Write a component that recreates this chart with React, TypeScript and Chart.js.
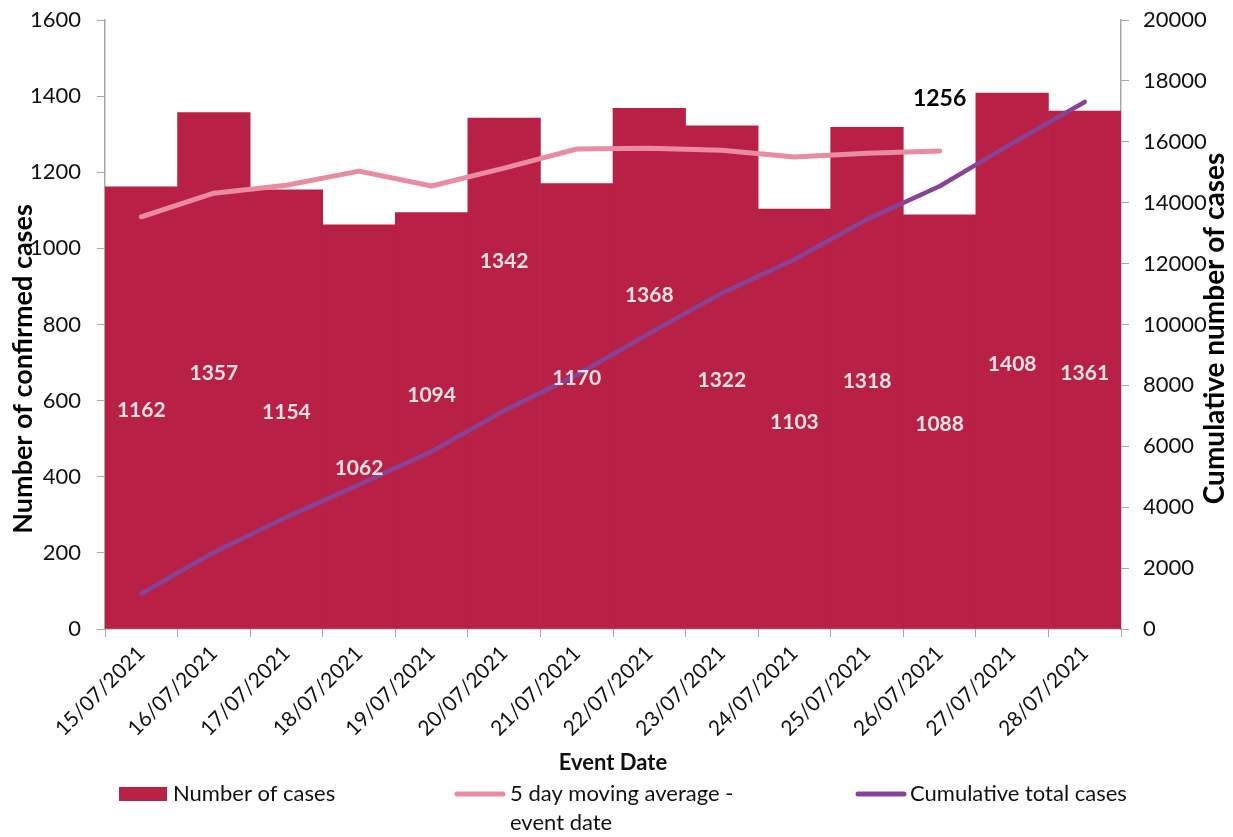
import React, { useEffect, useRef } from "react";
import { Chart, registerables } from "chart.js";

Chart.register(...registerables);

const categories = [
  "15/07/2021", "16/07/2021", "17/07/2021", "18/07/2021", "19/07/2021", "20/07/2021", "21/07/2021",
  "22/07/2021", "23/07/2021", "24/07/2021", "25/07/2021", "26/07/2021", "27/07/2021", "28/07/2021",
];
const dailyCases = [1162, 1357, 1154, 1062, 1094, 1342, 1170, 1368, 1322, 1103, 1318, 1088, 1408, 1361];
const movingAverage: (number | null)[] = [1083, 1145, 1166, 1203, 1164, 1211, 1261, 1263, 1258, 1240, 1250, 1256, null, null];
const cumulativeTotal = [1162, 2519, 3673, 4735, 5829, 7171, 8341, 9709, 11031, 12134, 13452, 14540, 15948, 17309];
const legendLabels = ["Number of cases", ["5 day moving average -", "event date"], "Cumulative total cases"];
const leftTitle = "Number of confirmed cases";
const rightTitle = "Cumulative number of cases";
const xTitle = "Event Date";
// vertical pixel shifts of the bar labels that were moved off-centre in the original
const labelShift = [0, 0, 0, 39, -28, -115, -31, -76, 0, 0, 0, 0, 0, 0];

const FONT = "Lato, 'Open Sans', sans-serif";
const BAR_COLOR = "#B92046";
const MA_COLOR = "#EA8CA0";
const CUM_COLOR = "#874397";

const barLabelPlugin = {
  id: "barLabels",
  afterDatasetsDraw(chart: any) {
    const ctx = chart.ctx;
    ctx.save();
    const barMeta = chart.getDatasetMeta(0);
    ctx.font = `bold 21px ${FONT}`;
    ctx.fillStyle = "#E6E2E3";
    ctx.textAlign = "center";
    ctx.textBaseline = "middle";
    barMeta.data.forEach((el: any, i: number) => {
      const v = chart.data.datasets[0].data[i];
      ctx.fillText(String(v), el.x, (el.y + el.base) / 2 + 3 + (labelShift[i] || 0));
    });
    const maMeta = chart.getDatasetMeta(1);
    const maData = chart.data.datasets[1].data;
    let last = -1;
    maData.forEach((v: any, i: number) => { if (v != null) last = i; });
    if (last >= 0) {
      const p = maMeta.data[last];
      ctx.font = `bold 23px ${FONT}`;
      ctx.fillStyle = "#000";
      ctx.fillText(String(maData[last]), p.x, p.y - 52);
    }
    ctx.restore();
  },
};

const legendPlugin = {
  id: "customLegend",
  afterDraw(chart: any) {
    const ctx = chart.ctx;
    ctx.save();
    const ca = chart.chartArea;
    ctx.font = `bold 28px ${FONT}`;
    ctx.fillStyle = "#000";
    ctx.textAlign = "center";
    ctx.textBaseline = "middle";
    ctx.translate(1215, (ca.top + ca.bottom) / 2 + 4);
    ctx.rotate(-Math.PI / 2);
    ctx.fillText(rightTitle, 0, 0);
    ctx.setTransform(1, 0, 0, 1, 0, 0);

    ctx.font = `bold 27px ${FONT}`;
    ctx.translate(23, 369);
    ctx.rotate(-Math.PI / 2);
    ctx.fillText(leftTitle, 0, 0);
    ctx.setTransform(1, 0, 0, 1, 0, 0);

    ctx.font = `22px ${FONT}`;
    ctx.textBaseline = "middle";
    ctx.textAlign = "left";
    const y = 794;
    ctx.fillStyle = BAR_COLOR;
    ctx.fillRect(119, 787, 48, 14);
    ctx.fillStyle = "#111";
    ctx.fillText(legendLabels[0] as string, 173, y);
    ctx.lineCap = "round";
    ctx.lineWidth = 5;
    ctx.strokeStyle = MA_COLOR;
    ctx.beginPath();
    ctx.moveTo(457, y);
    ctx.lineTo(503, y);
    ctx.stroke();
    const ma = legendLabels[1] as string[];
    ctx.fillText(ma[0], 510, y);
    ctx.fillText(ma[1], 510, y + 29);
    ctx.strokeStyle = CUM_COLOR;
    ctx.beginPath();
    ctx.moveTo(858, y);
    ctx.lineTo(904, y);
    ctx.stroke();
    ctx.fillText(legendLabels[2] as string, 910, y);
    ctx.restore();
  },
};

export default function App() {
  const ref = useRef<HTMLCanvasElement | null>(null);
  useEffect(() => {
    if (!ref.current) return;
    const chart = new Chart(ref.current, {
      type: "bar",
      data: {
        labels: categories,
        datasets: [
          {
            type: "bar",
            label: "Number of cases",
            data: dailyCases,
            backgroundColor: BAR_COLOR,
            borderWidth: 0,
            categoryPercentage: 1,
            barPercentage: 1,
            yAxisID: "y",
            order: 3,
          },
          {
            type: "line",
            label: "5 day moving average - event date",
            data: movingAverage,
            borderColor: MA_COLOR,
            borderWidth: 5,
            pointRadius: 0,
            tension: 0,
            borderCapStyle: "round",
            borderJoinStyle: "round",
            yAxisID: "y",
            order: 2,
          },
          {
            type: "line",
            label: "Cumulative total cases",
            data: cumulativeTotal,
            borderColor: CUM_COLOR,
            borderWidth: 4.5,
            pointRadius: 0,
            tension: 0,
            borderCapStyle: "round",
            borderJoinStyle: "round",
            yAxisID: "y1",
            order: 1,
          },
        ] as any,
      },
      options: {
        responsive: false,
        animation: false,
        layout: { padding: { top: 20, bottom: 60, left: 0, right: 0 } },
        plugins: { legend: { display: false }, tooltip: { enabled: false } },
        scales: {
          x: {
            offset: true,
            grid: { offset: true, drawOnChartArea: false, drawTicks: true, tickLength: 8, color: "#A6A6A6" },
            border: { color: "#A6A6A6", width: 1.5 },
            ticks: { maxRotation: 45, minRotation: 45, padding: 4, color: "#111", font: { family: FONT, size: 21 }, autoSkip: false },
            title: { display: true, text: xTitle, color: "#111", font: { family: FONT, size: 22, weight: "bold" }, padding: { top: 0, bottom: 1 } },
            afterFit: (s: any) => { s.height = 148; s.paddingTop = 0; s.paddingLeft = 0; s.paddingRight = 0; },
          },
          y: {
            position: "left",
            min: 0,
            max: 1600,
            ticks: { stepSize: 200, padding: 16, color: "#111", font: { family: FONT, size: 22 }, callback: (v: any) => String(v) },
            grid: { drawOnChartArea: false, tickLength: 8, color: "#A6A6A6" },
            border: { color: "#A6A6A6", width: 1.5 },
            title: { display: false },
            afterFit: (s: any) => { s.width = 105; s.paddingTop = 0; s.paddingBottom = 0; },
          },
          y1: {
            position: "right",
            min: 0,
            max: 20000,
            ticks: { stepSize: 2000, padding: 14, color: "#111", font: { family: FONT, size: 22 }, callback: (v: any) => String(v) },
            grid: { drawOnChartArea: false, tickLength: 8, color: "#A6A6A6" },
            border: { color: "#A6A6A6", width: 1.5 },
            title: { display: false },
            afterFit: (s: any) => { s.width = 112; s.paddingTop = 0; s.paddingBottom = 0; },
          },
        },
      } as any,
      plugins: [barLabelPlugin, legendPlugin],
    });
    return () => chart.destroy();
  }, []);
  return (
    <div style={{ position: "absolute", left: 0, top: 0, width: 1233, height: 837, background: "#fff" }}>
      <canvas ref={ref} width={1233} height={837} style={{ display: "block" }} />
    </div>
  );
}
